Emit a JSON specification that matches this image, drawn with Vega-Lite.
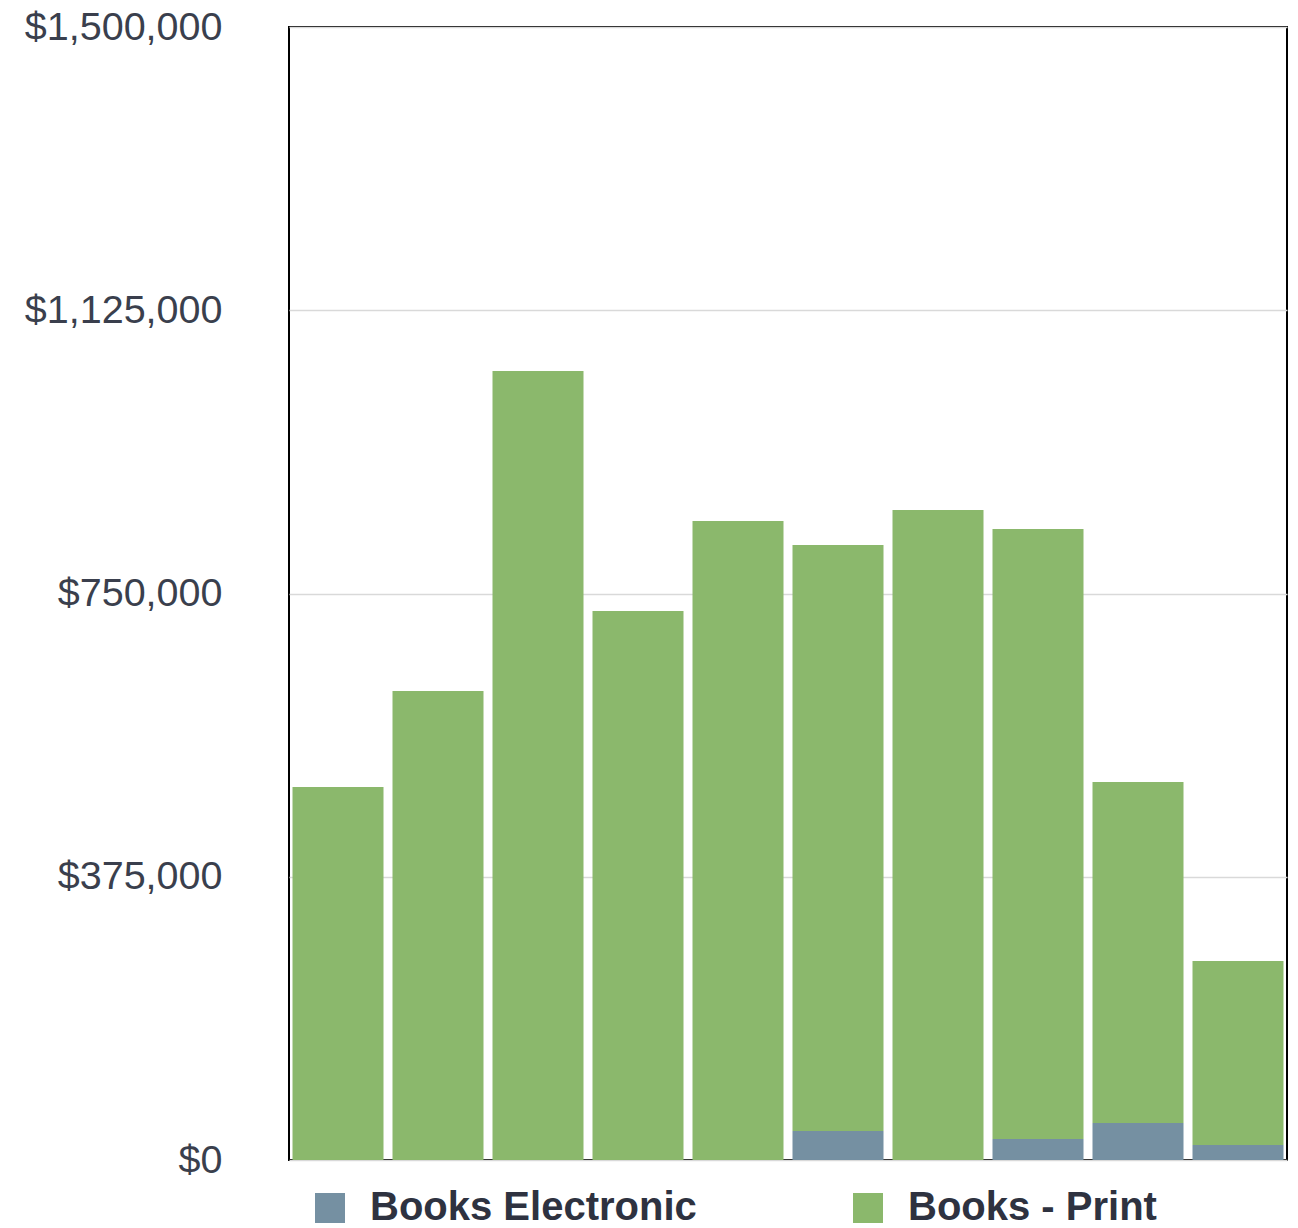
{
  "$schema": "https://vega.github.io/schema/vega-lite/v6.json",
  "width": 998,
  "height": 1133,
  "autosize": "none",
  "padding": {"left": 289, "top": 27, "right": 11, "bottom": 68},
  "background": "#ffffff",
  "config": {
    "view": {"stroke": "#000000", "strokeWidth": 2},
    "font": "Liberation Sans"
  },
  "data": {
    "values": [
      {"period": "1", "series": "Books - Print", "amount": 493800},
      {"period": "2", "series": "Books - Print", "amount": 620900},
      {"period": "3", "series": "Books - Print", "amount": 1044600},
      {"period": "4", "series": "Books - Print", "amount": 726800},
      {"period": "5", "series": "Books - Print", "amount": 846000},
      {"period": "6", "series": "Books Electronic", "amount": 38400},
      {"period": "6", "series": "Books - Print", "amount": 775800},
      {"period": "7", "series": "Books - Print", "amount": 860500},
      {"period": "8", "series": "Books Electronic", "amount": 27800},
      {"period": "8", "series": "Books - Print", "amount": 807600},
      {"period": "9", "series": "Books Electronic", "amount": 49000},
      {"period": "9", "series": "Books - Print", "amount": 451400},
      {"period": "10", "series": "Books Electronic", "amount": 19900},
      {"period": "10", "series": "Books - Print", "amount": 243600}
    ]
  },
  "mark": {"type": "bar"},
  "encoding": {
    "x": {
      "field": "period",
      "type": "nominal",
      "sort": null,
      "scale": {"paddingInner": 0.09, "paddingOuter": 0.035},
      "axis": null
    },
    "y": {
      "field": "amount",
      "type": "quantitative",
      "stack": "zero",
      "scale": {"domain": [0, 1500000], "nice": false},
      "axis": {
        "values": [0, 375000, 750000, 1125000, 1500000],
        "format": "$,.0f",
        "title": null,
        "domain": false,
        "ticks": false,
        "labelPadding": 67,
        "labelFontSize": 39.5,
        "labelLimit": 400,
        "labelColor": "#3a3f4d",
        "labelFont": "Liberation Sans",
        "gridColor": "#d9d9d9",
        "gridWidth": 1.5
      }
    },
    "color": {
      "field": "series",
      "type": "nominal",
      "scale": {"domain": ["Books Electronic", "Books - Print"], "range": ["#7590A2", "#8BB86C"]},
      "legend": {
        "title": null,
        "orient": "none",
        "direction": "horizontal",
        "columns": 2,
        "legendX": 21,
        "legendY": 1161,
        "symbolType": "square",
        "symbolSize": 900,
        "symbolStrokeWidth": 0,
        "labelFontSize": 40,
        "labelFontWeight": "bold",
        "labelColor": "#2e3240",
        "labelFont": "Liberation Sans",
        "labelOffset": 20,
        "columnPadding": 151,
        "labelLimit": 500,
        "padding": 0
      }
    },
    "order": {"field": "series", "sort": "descending"}
  }
}
